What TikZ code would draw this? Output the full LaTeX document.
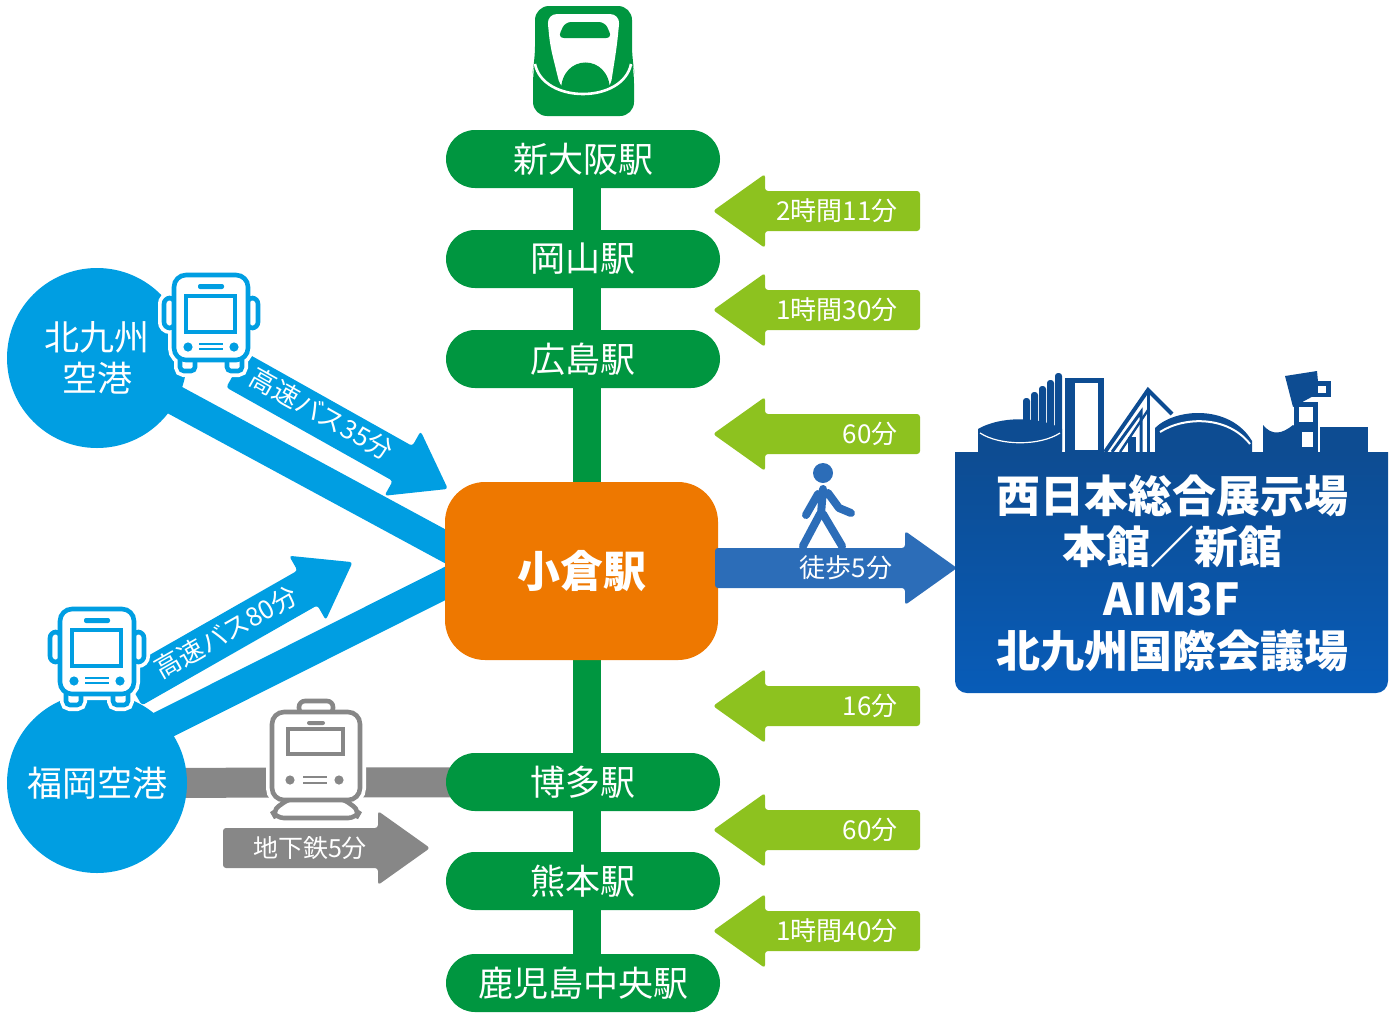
\documentclass[tikz,border=0pt]{standalone}
\usepackage{fontspec}
\setmainfont{Noto Sans CJK JP}
\usetikzlibrary{backgrounds}

\definecolor{rail}{RGB}{0,150,64}
\definecolor{lime}{RGB}{141,194,31}
\definecolor{hubor}{RGB}{238,120,0}
\definecolor{sky}{RGB}{0,158,226}
\definecolor{metro}{RGB}{135,135,135}
\definecolor{walk}{RGB}{44,109,184}
\definecolor{venuetop}{RGB}{13,76,146}
\definecolor{venuebot}{RGB}{8,92,184}

% filled route arrow: style, start point, direction, total length
\newcommand\routearrow[4]{%
  \fill[#1,shift={#2},rotate=#3,rounded corners=1.5pt]
    (0,-20) -- ({#4-52},-20) -- ({#4-52},-37) -- (#4,0) --
    ({#4-52},37) -- ({#4-52},20) -- (0,20) -- cycle;}

\tikzset{
  station/.style={fill=rail, text=white, minimum width=137pt, minimum height=29pt,
    rounded corners=14.5pt, inner sep=0pt, font=\fontsize{17.5}{20}\selectfont},
  airport/.style={circle, fill=sky, text=white, minimum size=90pt, inner sep=0pt,
    align=center, font=\fontsize{17.5}{20.5}\selectfont},
  hub/.style={fill=hubor, text=white, minimum width=136.5pt, minimum height=89pt,
    rounded corners=20pt, inner sep=0pt, font=\bfseries\fontsize{21.5}{24}\selectfont},
  timelabel/.style={text=white, inner sep=0pt, anchor=east, font=\fontsize{13}{15}\selectfont},
  routelabel/.style={text=white, inner sep=0pt, font=\fontsize{13}{15}\selectfont},
  venuetext/.style={text=white, align=center, inner sep=0pt,
    font=\bfseries\fontsize{22}{25.8}\selectfont},
  pics/bus/.style={code={
    \foreach \w/\c in {6pt/white,2.3pt/sky}{
      \draw[line width=\w, draw=\c, fill=white, rounded corners=3pt] (-47,-20) rectangle (-36,10);
      \draw[line width=\w, draw=\c, fill=white, rounded corners=3pt] (36,-20) rectangle (47,10);
      \draw[line width=\w, draw=\c, fill=white, rounded corners=2pt] (-31,36) rectangle (-16,53);
      \draw[line width=\w, draw=\c, fill=white, rounded corners=2pt] (16,36) rectangle (31,53);
      \draw[line width=\w, draw=\c, fill=white, rounded corners=6pt] (-37,-43) rectangle (37,42);
    }
    \fill[sky, rounded corners=1pt] (-13,-34) rectangle (13,-29);
    \draw[sky, line width=2.2pt] (-25,-22) rectangle (24,14);
    \fill[sky] (-23,29) circle (2.3pt);
    \fill[sky] (23,29) circle (2.3pt);
    \draw[sky, line width=0.9pt] (-12,26) -- (12,26) (-12,31) -- (12,31);
  }},
  pics/subway/.style={code={
    \foreach \w/\c in {6pt/white,2.3pt/metro}{
      \draw[line width=\w, draw=\c, fill=white, rounded corners=3pt] (-17,-55) rectangle (17,-42);
      \draw[line width=\w, draw=\c, fill=white, rounded corners=4pt]
        (-26,42) -- (-44,55) -- (-40,62) -- (40,62) -- (44,55) -- (26,42) -- cycle;
      \draw[line width=\w, draw=\c, fill=white, rounded corners=6pt] (-44,-44) rectangle (44,44);
    }
    \fill[metro, rounded corners=1pt] (-9,-35) rectangle (9,-31);
    \draw[metro, line width=2.2pt] (-28,-27) rectangle (27,-2);
    \fill[metro] (-26,24) circle (2.3pt);
    \fill[metro] (23,24) circle (2.3pt);
    \draw[metro, line width=0.9pt] (-13,21) -- (11,21) (-13,27) -- (11,27);
  }},
}

\begin{document}
\begin{tikzpicture}[x=0.5pt,y=-0.5pt]
\useasboundingbox (0,0) rectangle (1400,1012);

% ---- Shinkansen emblem
\fill[rail, rounded corners=7pt] (535,6) -- (632,6) -- (632,60) -- (634,70) -- (634,116)
  -- (533,116) -- (533,70) -- (535,60) -- cycle;
\fill[white, rounded corners=5pt] (547,14) -- (620,14) -- (617,45) -- (610,90) -- (561,90)
  -- (550,45) -- cycle;
\fill[rail, rounded corners=3pt] (565,22) -- (605,22) -- (612,38) -- (558,38) -- cycle;
\fill[rail] (561,91) .. controls (561,53) and (610,53) .. (610,91) -- cycle;
\draw[white, line width=1.3pt] (535,64) .. controls (543,104) and (623,104) .. (631,64);

% ---- stations
\node[station] (shinosaka) at (583,159) {新大阪駅};
\node[station] (okayama)   at (583,259) {岡山駅};
\node[station] (hiroshima) at (583,359) {広島駅};
\node[station] (hakata)    at (583,782) {博多駅};
\node[station] (kumamoto)  at (583,881) {熊本駅};
\node[station] (kagoshima) at (583,983) {鹿児島中央駅};
\node[hub] (kokura) at (581.5,571) {小倉駅};

% ---- airports
\node[airport] (kitakyushu) at (97,358) {北九州\\空港};
\node[airport] (fukuoka)    at (97,783) {福岡空港};

\coordinate (joinA) at (452,550);
\coordinate (joinB) at (452,580);

\begin{scope}[on background layer]
  \draw[rail, line width=14pt] ([xshift=2pt]shinosaka.center) -- ([xshift=2pt]kagoshima.center);
  \draw[sky, line width=15pt] (kitakyushu.center) -- (joinA);
  \draw[sky, line width=15pt] ([shift={(23pt,24pt)}]fukuoka.center) -- (joinB);
  \draw[metro, line width=15pt] (fukuoka.center) -- (hakata.center);
\end{scope}

% ---- Shinkansen travel times
\routearrow{lime}{(920,211)}{180}{207}
\routearrow{lime}{(920,310)}{180}{207}
\routearrow{lime}{(920,434)}{180}{207}
\routearrow{lime}{(920,706)}{180}{207}
\routearrow{lime}{(920,830)}{180}{207}
\routearrow{lime}{(920,931)}{180}{207}
\node[timelabel] (tA) at (898,211) {2時間11分};
\node[timelabel] (tB) at (898,310) {1時間30分};
\node[timelabel] (tC) at (898,434) {60分};
\node[timelabel] (tD) at (898,706) {16分};
\node[timelabel] (tE) at (898,830) {60分};
\node[timelabel] (tF) at (898,931) {1時間40分};

% ---- airport buses
\routearrow{sky}{(236,370)}{-29.3}{243}
\node[routelabel, rotate=-29.3] (busA) at (322,414) {高速バス35分};
\routearrow{sky}{(132,688)}{29.7}{254}
\node[routelabel, rotate=29.7] (busB) at (226,632) {高速バス80分};
\pic at (211,318) {bus};
\pic at (97,652) {bus};

% ---- subway
\routearrow{metro}{(223,848)}{0}{207}
\node[routelabel, font=\fontsize{12.5}{15}\selectfont] (subway) at (310,848) {地下鉄5分};
\pic at (316,756) {subway};

% ---- walk to venue
\routearrow{walk}{(715,568)}{0}{242}
\node[routelabel] (walklbl) at (846,568) {徒歩5分};
\fill[walk] (823,473) circle (5pt);
\draw[walk, line width=4pt, line cap=round, line join=round]
  (823,489) -- (821,514)
  (820,514) -- (803,546)
  (823,514) -- (842,546)
  (818,494) -- (806,515)
  (828,493) -- (839,508) -- (851,513);

% ---- venue skyline
\begin{scope}[fill=venuetop]
  \fill (978,452) -- (978,429) .. controls (1000,416) and (1040,416) .. (1062,429) -- (1062,452) -- cycle;
  \foreach \cx/\ct in {1023/398,1031/392,1039/386,1047/380,1055/373}
    \fill[rounded corners=1.5pt] (\cx,453) -- (\cx,\ct) -- (\cx+7,\ct) -- (\cx+7,453) -- cycle;
  \fill (1065,378) rectangle (1104,453);
  \fill[white] (1075,383) rectangle (1098,450);
  \draw[venuetop, line width=2pt] (1105,452) -- (1148,390) -- (1172,414);
  \draw[venuetop, line width=1.5pt] (1148,390) -- (1148,452);
  \draw[venuetop, line width=1.5pt] (1112,452) -- (1141,412) -- (1141,452);
  \draw[venuetop, line width=1.2pt] (1120,452) -- (1148,410);
  \fill (1128,452) rectangle (1136,437);
  \fill (1155,452) -- (1155,428) .. controls (1175,408) and (1230,404) .. (1252,441) -- (1252,452) -- cycle;
  \fill (1263,452) -- (1263,425) .. controls (1272,436) and (1282,434) .. (1293,425) -- (1300,430) -- (1300,452) -- cycle;
  \fill (1285,376) -- (1317,371) -- (1319,393) -- (1293,407) -- cycle;
  \fill (1294,402) rectangle (1318,453);
  \fill (1312,381) rectangle (1331,397);
  \fill (1320,427) rectangle (1368,453);
\end{scope}
\draw[white, line width=0.6pt] (980,433) .. controls (1000,446) and (1040,446) .. (1060,433);
\draw[white, line width=1pt] (1160,432) .. controls (1185,416) and (1228,416) .. (1250,444);
\fill[white] (1299,407) rectangle (1313,422);
\fill[white] (1302,432) rectangle (1313,447);
\fill[white] (1318,386) rectangle (1326,393);

% ---- venue panel
\shade[top color=venuetop, bottom color=venuebot]
  (955,452) -- (1388,452) -- (1388,600) [rounded corners=6pt] -- (1388,693) -- (955,693)
  -- (955,600) [sharp corners] -- cycle;
\node[venuetext] (venue) at (1172,573) {西日本総合展示場\\本館／新館\\AIM3F\\北九州国際会議場};

\end{tikzpicture}
\end{document}
